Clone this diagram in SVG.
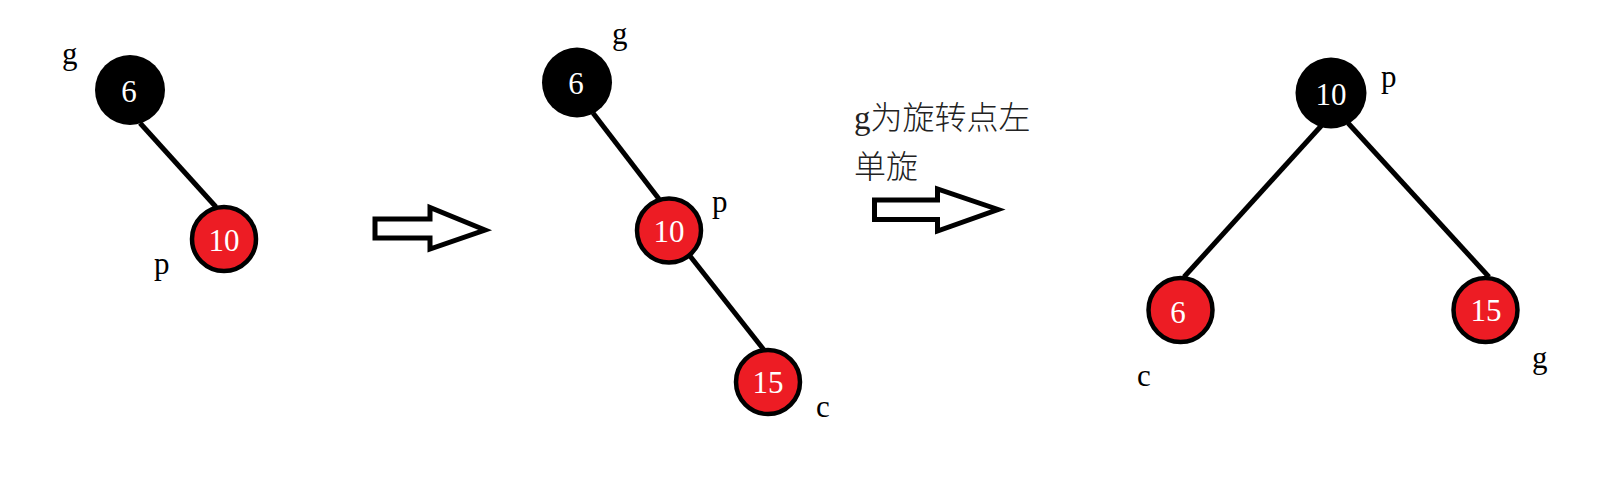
<svg xmlns="http://www.w3.org/2000/svg" width="1603" height="482" viewBox="0 0 1603 482">
<style>
.edge{stroke:#000;stroke-width:5;fill:none}
.blk{fill:#000}
.red{fill:#ed1c24;stroke:#000;stroke-width:4.5}
.num{font-family:"Liberation Serif",serif;font-size:31px;fill:#fff;text-anchor:middle}
.lbl{font-family:"Liberation Serif",serif;font-size:31px;fill:#000}
.arrow{fill:#fff;stroke:#000;stroke-width:5;stroke-linejoin:miter}
.cap{font-family:"Noto Sans CJK SC",sans-serif;font-size:32px;font-weight:300;fill:#222}
.capg{font-family:"Liberation Serif",serif;font-size:33px;font-weight:normal}
</style>
<rect width="1603" height="482" fill="#fff"/>
<g id="connectors">
<line class="edge" x1="140" y1="123" x2="216" y2="207"/>
<line class="edge" x1="593" y1="113" x2="659" y2="199"/>
<line class="edge" x1="690" y1="256" x2="764" y2="350"/>
<line class="edge" x1="1322" y1="125" x2="1184" y2="277"/>
<line class="edge" x1="1348" y1="123" x2="1489" y2="277"/>
<polygon class="arrow" points="375,219 430,219 430,207.5 485,230 430,249 430,238 375,238"/>
<polygon class="arrow" points="874.5,200 937.5,200 937.5,189 998,209.5 937.5,231 937.5,219.5 874.5,219.5"/>
</g>
<g id="t1-g"><circle class="blk" cx="130" cy="90" r="35"/><text class="num" x="129" y="102">6</text><text class="lbl" x="62" y="64">g</text></g>
<g id="t1-p"><circle class="red" cx="224" cy="239" r="32"/><text class="num" x="224" y="251">10</text><text class="lbl" x="154" y="274">p</text></g>
<g id="t2-g"><circle class="blk" cx="577" cy="82.5" r="35"/><text class="num" x="576" y="94">6</text><text class="lbl" x="612" y="44">g</text></g>
<g id="t2-p"><circle class="red" cx="669" cy="230.5" r="32"/><text class="num" x="669" y="242">10</text><text class="lbl" x="712" y="212">p</text></g>
<g id="t2-c"><circle class="red" cx="768" cy="382" r="32"/><text class="num" x="768" y="393">15</text><text class="lbl" x="816" y="417">c</text></g>
<g id="caption"><text class="cap" x="854" y="129"><tspan class="capg">g</tspan>为旋转点左</text><text class="cap" x="854" y="178">单旋</text></g>
<g id="t3-p"><circle class="blk" cx="1331" cy="93" r="35.5"/><text class="num" x="1331" y="105">10</text><text class="lbl" x="1381" y="87">p</text></g>
<g id="t3-c"><circle class="red" cx="1180.5" cy="310" r="32"/><text class="num" x="1178" y="323">6</text><text class="lbl" x="1137" y="386">c</text></g>
<g id="t3-g"><circle class="red" cx="1485.5" cy="310" r="32"/><text class="num" x="1486" y="321">15</text><text class="lbl" x="1532" y="368">g</text></g>
</svg>
